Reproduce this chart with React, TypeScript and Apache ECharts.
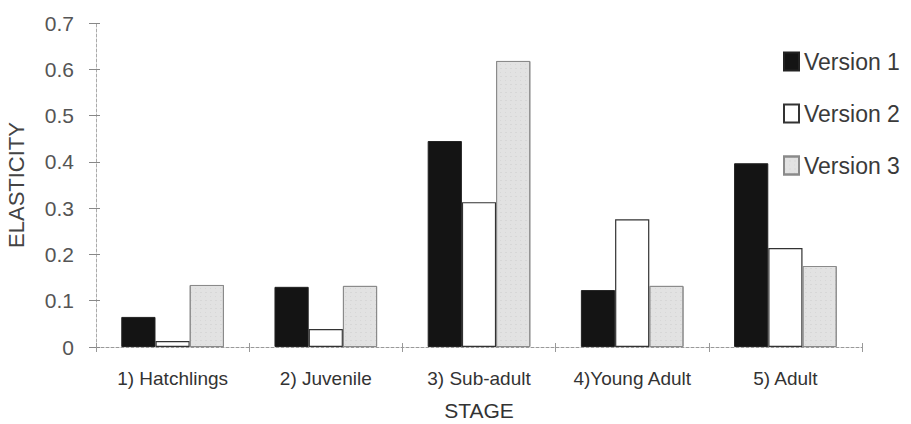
import React, { useEffect, useRef } from "react";
import * as echarts from "echarts";

const stages = ["1) Hatchlings", "2) Juvenile", "3) Sub-adult", "4)Young Adult", "5) Adult"];
const version1 = [0.065, 0.13, 0.445, 0.123, 0.397];
const version2 = [0.013, 0.039, 0.313, 0.276, 0.214];
const version3 = [0.134, 0.132, 0.618, 0.132, 0.175];
const yTicks = [0, 0.1, 0.2, 0.3, 0.4, 0.5, 0.6, 0.7];

const FONT = "'Liberation Sans', Arial, sans-serif";
const Y_MAX = yTicks[yTicks.length - 1];

export default function App() {
  const ref = useRef<HTMLDivElement>(null);

  useEffect(() => {
    if (!ref.current) return;
    const chart = echarts.init(ref.current, undefined, { renderer: "svg" });
    chart.setOption({
      animation: false,
      backgroundColor: "#ffffff",
      textStyle: { fontFamily: FONT },
      grid: { left: 96, right: 49, top: 23, bottom: 77, outerBoundsMode: "none" },
      legend: {
        orient: "vertical",
        left: 778,
        top: 45,
        icon: "rect",
        itemWidth: 15,
        itemHeight: 18,
        itemGap: 29,
        textStyle: { fontSize: 23, color: "#3a3a3a", fontFamily: FONT },
        data: ["Version 1", "Version 2", "Version 3"],
      },
      xAxis: [
        {
          type: "category",
          data: stages,
          name: "STAGE",
          nameLocation: "middle",
          nameGap: 53,
          nameTextStyle: { fontSize: 21, color: "#333", fontFamily: FONT, lineHeight: 21 },
          axisLine: { lineStyle: { color: "#999", width: 1, type: [3, 2] } },
          axisTick: { show: true, length: 5, lineStyle: { color: "#999" } },
          axisLabel: { fontSize: 19, color: "#333", margin: 22, interval: 0, hideOverlap: false },
        },
        {
          // inward half of the boundary ticks, so they cross the axis line
          type: "category",
          data: stages,
          position: "bottom",
          axisLine: { show: false },
          axisTick: { show: true, inside: true, length: 4, lineStyle: { color: "#999" } },
          axisLabel: { show: false },
        },
      ],
      yAxis: [
        {
          type: "value",
          min: 0,
          max: Y_MAX,
          interval: 0.1,
          name: "ELASTICITY",
          nameLocation: "middle",
          nameGap: 69,
          nameTextStyle: { fontSize: 22, color: "#444", fontFamily: FONT },
          axisLine: { show: true, lineStyle: { color: "#aaa", width: 1, type: [3, 2] } },
          axisTick: { show: true, length: 7, lineStyle: { color: "#888" } },
          splitLine: { show: false },
          axisLabel: {
            fontSize: 21,
            color: "#555",
            margin: 22,
            formatter: (v: number) => (v === 0 ? "0" : v.toFixed(1)),
          },
        },
        {
          type: "value",
          min: 0,
          max: Y_MAX,
          interval: 0.1,
          position: "left",
          axisLine: { show: false },
          axisTick: { show: true, inside: true, length: 4, lineStyle: { color: "#888" } },
          axisLabel: { show: false },
          splitLine: { show: false },
        },
      ],
      series: [
        {
          name: "Version 1",
          type: "bar",
          data: version1,
          barGap: "0%",
          barCategoryGap: "33%",
          itemStyle: { color: "#141414", borderColor: "#222", borderWidth: 1 },
        },
        {
          name: "Version 2",
          type: "bar",
          data: version2,
          itemStyle: { color: "#ffffff", borderColor: "#333", borderWidth: 1.2 },
        },
        {
          name: "Version 3",
          type: "bar",
          data: version3,
          itemStyle: {
            color: "#e2e2e2",
            borderColor: "#8a8a8a",
            borderWidth: 1,
            decal: {
              symbol: "rect",
              symbolSize: 0.6,
              dashArrayX: [[2, 3], [1, 4]],
              dashArrayY: [1, 3],
              color: "rgba(120,120,120,0.35)",
              rotation: 0,
            },
          },
        },
      ],
    });
    return () => chart.dispose();
  }, []);

  return (
    <div
      ref={ref}
      style={{ width: 911, height: 424, position: "absolute", left: 0, top: 0 }}
    />
  );
}
